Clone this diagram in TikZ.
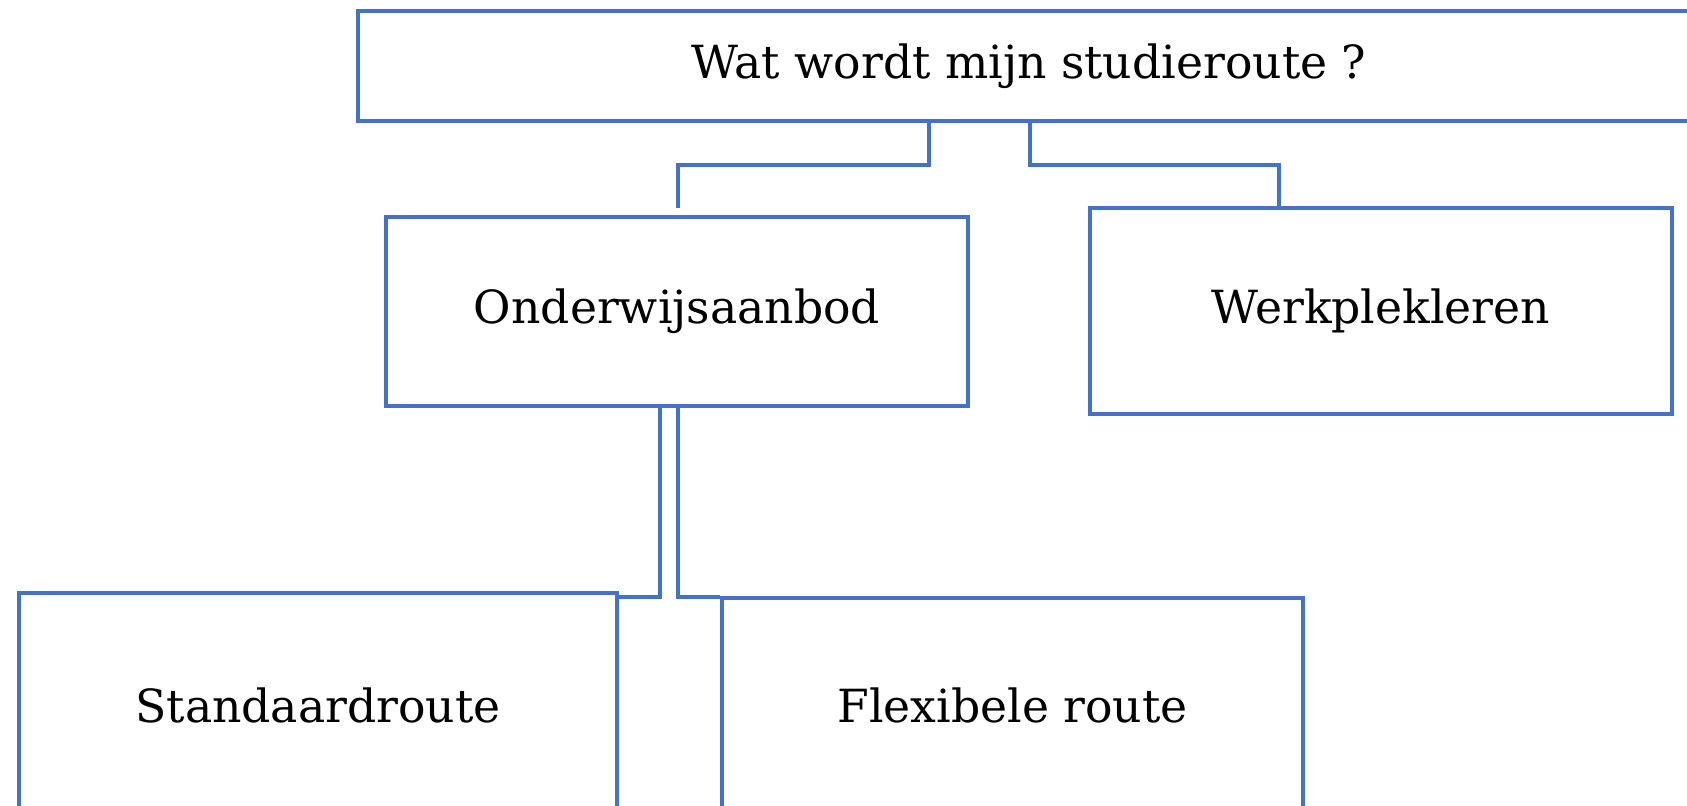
\documentclass[tikz,border=0pt]{standalone}
\usepackage{fontspec}
\setmainfont{DejaVu Serif}
\usetikzlibrary{positioning}
\definecolor{lijnblauw}{RGB}{68,114,196}
\tikzset{
blok/.style={draw=lijnblauw, line width=1.9pt, rectangle, inner sep=0pt, font=\fontsize{26}{30}\selectfont},
lijn/.style={draw=lijnblauw, line width=1.9pt},
}

\begin{document}
\begin{tikzpicture}[x=0.02cm, y=-0.02cm]
    \clip (0,0) rectangle (1687,805);  % page = 1687 x 805

    %top row
    \node[blok, minimum width=26.84cm, minimum height=2.2cm] (vraag) at (1029,66) {Wat wordt mijn studieroute ?};

    %middle row
    \node[blok, minimum width=11.64cm, minimum height=3.78cm] (ond) at (677,311.5) {Onderwijsaanbod};
    \node[blok, minimum width=11.64cm, minimum height=4.12cm] (werk) at (1381,311) {Werkplekleren};

    %bottom row
    \node[blok, minimum width=11.96cm, minimum height=4.48cm] (std) at (318,705) {Standaardroute};
    \node[blok, minimum width=11.62cm, minimum height=4.28cm] (flex) at (1012.5,705) {Flexibele route};

    %bends
    \coordinate (split1) at (929,165);
    \coordinate (split2) at (1030,165);
    \coordinate (ondtop) at (678,208);
    \coordinate (werktop) at (1279,208);
    \coordinate (split3) at (660,597);
    \coordinate (split4) at (678,597);

    %lines from top box
    \draw[lijn] (split1 |- vraag.south) -- (split1) -| (ondtop);
    \draw[lijn] (split2 |- vraag.south) -- (split2) -| (werktop |- werk.north);

    %lines from Onderwijsaanbod
    \draw[lijn] (split3 |- ond.south) -- (split3) -- (split3 -| std.east);
    \draw[lijn] (split4 |- ond.south) -- (split4) -- (split4 -| flex.west);

\end{tikzpicture}
\end{document}
